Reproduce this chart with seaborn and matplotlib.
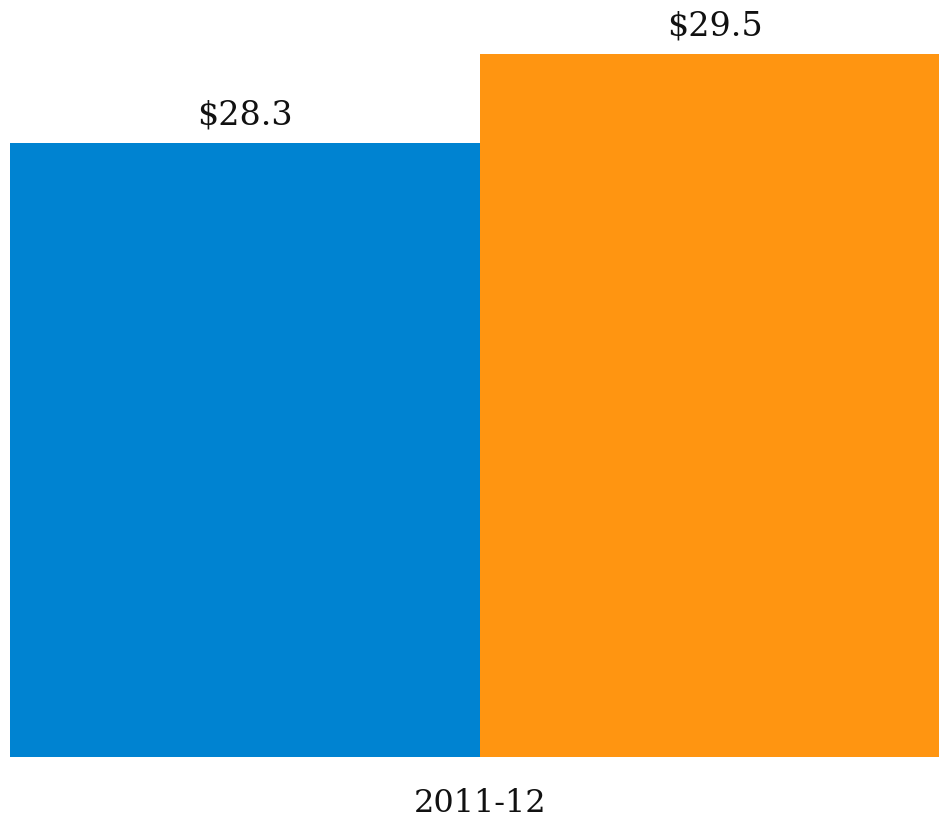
import matplotlib
matplotlib.use("Agg")
import matplotlib.pyplot as plt
import seaborn as sns
import pandas as pd

categories = ["2011-12", "2011-12"]
series = ["Series A", "Series B"]
values = [28.3, 29.5]
labels = ["$28.3", "$29.5"]
colors = ["#0083D1", "#FF9511"]

df = pd.DataFrame({"year": categories, "series": series, "value": values})

sns.set_theme(style="white")
plt.rcParams["font.family"] = ["DejaVu Serif"]

fig = plt.figure(figsize=(9.39, 8.17), dpi=100)
ax = fig.add_axes([10/939, 60/817, 940/939, 757/817])
sns.barplot(data=df, x="year", y="value", hue="series", palette=colors,
            width=1.0, dodge=True, legend=False, ax=ax, saturation=1,
            linewidth=0)
ax.set_xlim(-0.5, 0.5)
ax.set_ylim(20.0, 30.23)
for cont, lab in zip(ax.containers, labels):
    ax.bar_label(cont, labels=[lab], padding=8, fontsize=24, color="#111111")
ax.set_xlabel("")
ax.set_ylabel("")
ax.set_yticks([])
ax.tick_params(axis="x", length=0, labelsize=23, pad=22, labelcolor="#111111")
for s in ax.spines.values():
    s.set_visible(False)
fig.savefig("out.png", dpi=100)
